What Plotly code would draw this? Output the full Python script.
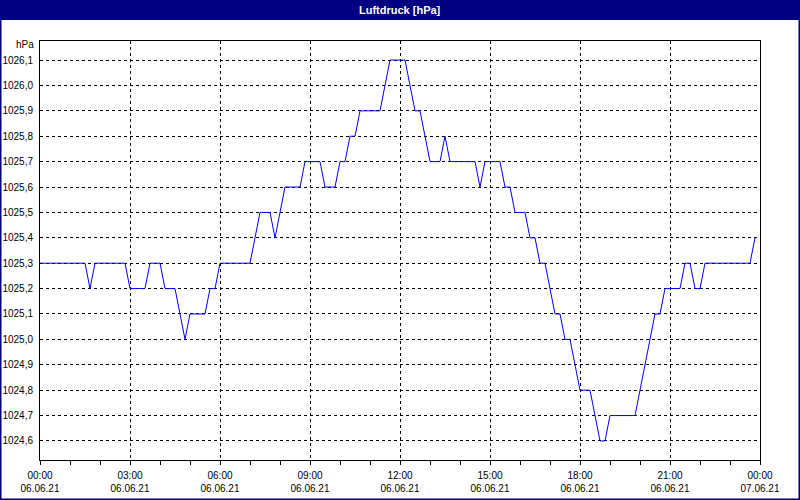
import plotly.graph_objects as go

# Vertices of the pressure curve (time of day on 06.06.21, hPa)
times = ["00:00", "01:30", "01:40", "01:50", "02:50", "03:00", "03:30", "03:40",
         "04:00", "04:10", "04:30", "04:40", "04:50", "05:00", "05:30", "05:40",
         "05:50", "06:00", "07:00", "07:10", "07:20", "07:40", "07:50", "08:00",
         "08:10", "08:40", "08:50", "09:20", "09:30", "09:50", "10:00", "10:10",
         "10:20", "10:30", "10:40", "11:20", "11:30", "11:40", "12:10", "12:20",
         "12:30", "12:40", "12:50", "13:00", "13:20", "13:30", "13:40", "14:30",
         "14:40", "14:50", "15:20", "15:30", "15:40", "15:50", "16:10", "16:20",
         "16:30", "16:40", "16:50", "17:00", "17:10", "17:20", "17:30", "17:40",
         "17:50", "18:00", "18:20", "18:30", "18:40", "18:50", "19:00", "19:50",
         "20:00", "20:10", "20:20", "20:30", "20:40", "20:50", "21:20", "21:30",
         "21:40", "21:50", "22:00", "22:10", "23:40", "23:50"]
pressure = [1025.3, 1025.3, 1025.2, 1025.3, 1025.3, 1025.2, 1025.2, 1025.3,
            1025.3, 1025.2, 1025.2, 1025.1, 1025.0, 1025.1, 1025.1, 1025.2,
            1025.2, 1025.3, 1025.3, 1025.4, 1025.5, 1025.5, 1025.4, 1025.5,
            1025.6, 1025.6, 1025.7, 1025.7, 1025.6, 1025.6, 1025.7, 1025.7,
            1025.8, 1025.8, 1025.9, 1025.9, 1026.0, 1026.1, 1026.1, 1026.0,
            1025.9, 1025.9, 1025.8, 1025.7, 1025.7, 1025.8, 1025.7, 1025.7,
            1025.6, 1025.7, 1025.7, 1025.6, 1025.6, 1025.5, 1025.5, 1025.4,
            1025.4, 1025.3, 1025.3, 1025.2, 1025.1, 1025.1, 1025.0, 1025.0,
            1024.9, 1024.8, 1024.8, 1024.7, 1024.6, 1024.6, 1024.7, 1024.7,
            1024.8, 1024.9, 1025.0, 1025.1, 1025.1, 1025.2, 1025.2, 1025.3,
            1025.3, 1025.2, 1025.2, 1025.3, 1025.3, 1025.4]
day = "2021-06-06"
x_start = "2021-06-06 00:00"
x_end = "2021-06-07 00:00"
title_text = "Luftdruck [hPa]"
unit_text = "hPa"

x = [f"{day} {t}" for t in times]

W, H = 800, 500
ML, MR, MT, MB = 40, 40, 41, 40
PW, PH = W - ML - MR, H - MT - MB

def px_x(p):
    return (p - ML) / PW

def px_y(p):
    return (H - MB - p) / PH

NAVY = "#000080"
FONT = "Liberation Sans"

fig = go.Figure()
fig.add_trace(go.Scatter(x=x, y=pressure, mode="lines",
                         line=dict(color="#0000FF", width=1),
                         hoverinfo="skip", showlegend=False))

fig.update_layout(
    width=W, height=H, autosize=False,
    margin=dict(l=ML, r=MR, t=MT, b=MB, pad=0),
    paper_bgcolor="#FFFFFF", plot_bgcolor="#FFFFFF",
    separators=",.",
    font=dict(family=FONT, size=10, color="#000000"),
    showlegend=False,
    xaxis=dict(
        type="date", range=[x_start, x_end], automargin=False,
        tickmode="linear", tick0=x_start, dtick=3 * 3600000,
        tickformat="%H:%M<br>%d.%m.%y",
        ticks="outside", ticklen=4, tickcolor="#000000", tickwidth=1,
        showgrid=True, gridcolor="#000000", gridwidth=1, griddash="3px,3px",
        showline=True, linecolor="#000000", linewidth=1, mirror=True,
        zeroline=False,
        minor=dict(dtick=3600000, ticks="outside", ticklen=4,
                   tickcolor="#000000", showgrid=False),
        tickfont=dict(family=FONT, size=10),
        ticklabelstandoff=2,
    ),
    yaxis=dict(
        range=[1024.525, 1026.175], automargin=False,
        tickmode="linear", tick0=1024.6, dtick=0.1, tickformat=".1f",
        ticks="", showgrid=True, gridcolor="#000000", gridwidth=1,
        griddash="3px,3px",
        showline=True, linecolor="#000000", linewidth=1, mirror=True,
        zeroline=False, ticklabelstandoff=4,
        tickfont=dict(family=FONT, size=10),
    ),
)

# title bar and outer frame
fig.add_shape(type="rect", xref="paper", yref="paper", layer="below",
              x0=px_x(0), x1=px_x(W), y0=px_y(20), y1=px_y(0),
              fillcolor=NAVY, line=dict(width=0))
fig.add_shape(type="rect", xref="paper", yref="paper",
              x0=px_x(0), x1=px_x(W), y0=px_y(H), y1=px_y(0),
              fillcolor="rgba(0,0,0,0)", line=dict(color=NAVY, width=3))

fig.add_annotation(text=f"<b>{title_text}</b>", xref="paper", yref="paper",
                   x=0.5, y=px_y(10), xanchor="center", yanchor="middle",
                   showarrow=False, font=dict(family=FONT, size=11, color="#FFFFFF"))
fig.add_annotation(text=unit_text, xref="paper", yref="paper",
                   x=px_x(36), y=px_y(45), xanchor="right", yanchor="middle",
                   showarrow=False, font=dict(family=FONT, size=10, color="#000000"))

fig.write_html(
    "out.html",
    config={"displayModeBar": False, "staticPlot": True},
    post_script="document.body.style.margin='0';document.body.style.overflow='hidden';",
)
